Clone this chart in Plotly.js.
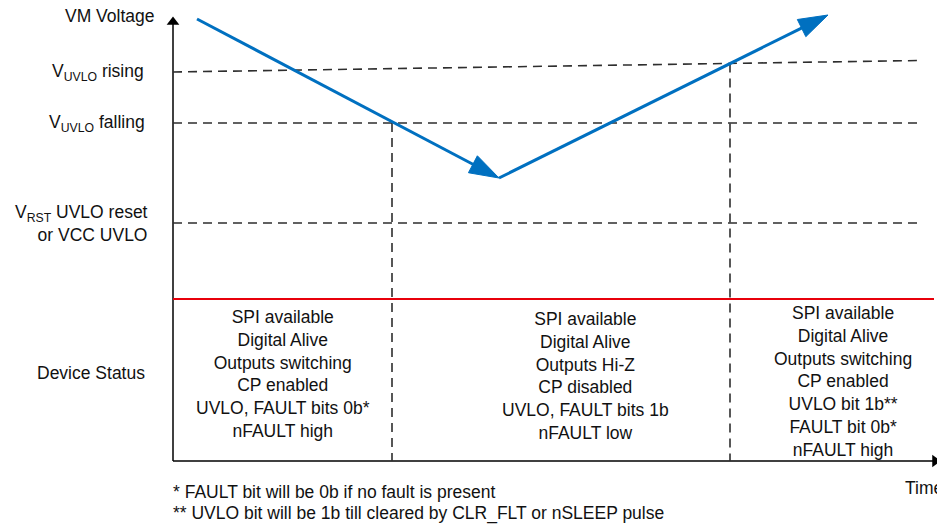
<!DOCTYPE html>
<html>
<head>
<meta charset="utf-8">
<script src="https://cdn.plot.ly/plotly-3.0.1.min.js"></script>
<style>html,body{margin:0;padding:0;background:#fff;}#chart{width:937px;height:527px;}</style>
</head>
<body>
<div id="chart"></div>
<script>
// ---- Data (time / voltage units; origin at the axes corner) ----
const vmTime = [24, 326, 655];
const vmVoltage = [442, 283, 446];

const uvloRisingTime = [0, 747];
const uvloRisingVolt = [389, 400.5];
const uvloFallingTime = [0, 747];
const uvloFallingVolt = [338, 338];
const vrstTime = [0, 747];
const vrstVolt = [238, 238];
const statusLineTime = [0, 761];
const statusLineLevel = [162, 162];

const crossFallTime = 219;
const crossRiseTime = 557;

const axisTimeMax = 762;
const axisVoltMax = 438;

const levelLabels = ["VM Voltage", "V<sub>UVLO</sub> rising", "V<sub>UVLO</sub> falling", "V<sub>RST</sub> UVLO reset<br>or VCC UVLO", "Device Status"];
const statusTexts = [
  "SPI available<br>Digital Alive<br>Outputs switching<br>CP enabled<br>UVLO, FAULT bits 0b*<br>nFAULT high",
  "SPI available<br>Digital Alive<br>Outputs Hi-Z<br>CP disabled<br>UVLO, FAULT bits 1b<br>nFAULT low",
  "SPI available<br>Digital Alive<br>Outputs switching<br>CP enabled<br>UVLO bit 1b**<br>FAULT bit 0b*<br>nFAULT high"
];
const statusCenters = [110, 412, 670];
const statusLevels = [87, 85, 80];
const footnotes = ["* FAULT bit will be 0b if no fault is present", "** UVLO bit will be 1b till cleared by CLR_FLT or nSLEEP pulse"];
const timeLabel = "Time";

// ---- Styles ----
const FONT = "Liberation Sans, Arial, sans-serif";
const dashStyle = {color: "#2e2e2e", width: 1.6, dash: "9px,6px"};

function interp(xs, ys, x) {
  return ys[0] + (ys[1] - ys[0]) * (x - xs[0]) / (xs[1] - xs[0]);
}

const traces = [];
// axes
traces.push({x: [0, 0], y: [0, axisVoltMax], mode: "lines", line: {color: "#000", width: 1.5}, hoverinfo: "skip", cliponaxis: false});
traces.push({x: [0, axisTimeMax], y: [0, 0], mode: "lines", line: {color: "#000", width: 1.5}, hoverinfo: "skip", cliponaxis: false});
traces.push({x: [0], y: [axisVoltMax + 1], mode: "markers", marker: {symbol: "triangle-up", size: 11, color: "#000"}, cliponaxis: false, hoverinfo: "skip"});
traces.push({x: [axisTimeMax], y: [0], mode: "markers", marker: {symbol: "triangle-right", size: 11, color: "#000"}, cliponaxis: false, hoverinfo: "skip"});

// threshold dashed lines
traces.push({x: uvloRisingTime, y: uvloRisingVolt, mode: "lines", line: dashStyle, hoverinfo: "skip"});
traces.push({x: uvloFallingTime, y: uvloFallingVolt, mode: "lines", line: dashStyle, hoverinfo: "skip"});
traces.push({x: vrstTime, y: vrstVolt, mode: "lines", line: dashStyle, hoverinfo: "skip"});

// vertical dashed lines
traces.push({x: [crossFallTime, crossFallTime], y: [interp(uvloFallingTime, uvloFallingVolt, crossFallTime), 0], mode: "lines", line: dashStyle, hoverinfo: "skip"});
traces.push({x: [crossRiseTime, crossRiseTime], y: [interp(uvloRisingTime, uvloRisingVolt, crossRiseTime), 0], mode: "lines", line: dashStyle, hoverinfo: "skip"});

// red status line
traces.push({x: statusLineTime, y: statusLineLevel, mode: "lines", line: {color: "#e8000b", width: 2.2}, hoverinfo: "skip", cliponaxis: false});

// VM voltage
traces.push({
  x: vmTime, y: vmVoltage, mode: "lines+markers",
  line: {color: "#0070c0", width: 3},
  marker: {symbol: ["circle", "arrow", "arrow"], size: [0, 31, 31], angleref: "previous", color: "#0070c0", opacity: 1, line: {width: 1, color: "#0070c0"}},
  cliponaxis: false, hoverinfo: "skip"
});

const annFont = {family: FONT, size: 17.5, color: "#111"};
const annotations = [];
const labelY = [445, uvloRisingVolt[0], uvloFallingVolt[0], vrstVolt[0], 88];
const labelX = [-16, -27, -26, -23, -26];
levelLabels.forEach((t, i) => {
  annotations.push({x: labelX[i], y: labelY[i], xref: "x", yref: "y", text: t, showarrow: false, xanchor: "right", yanchor: "middle", align: "right", font: annFont});
});
statusTexts.forEach((t, i) => {
  annotations.push({x: statusCenters[i], y: statusLevels[i], xref: "x", yref: "y", text: t, showarrow: false, xanchor: "center", yanchor: "middle", align: "center", font: annFont});
});
footnotes.forEach((t, i) => {
  annotations.push({x: -2, y: -31 - 21 * i, xref: "x", yref: "y", text: t, showarrow: false, xanchor: "left", yanchor: "middle", align: "left", font: annFont});
});
annotations.push({x: 730, y: -27, xref: "x", yref: "y", text: timeLabel, showarrow: false, xanchor: "left", yanchor: "middle", font: annFont});

const layout = {
  width: 937, height: 527,
  margin: {l: 0, r: 0, t: 0, b: 0, pad: 0},
  paper_bgcolor: "#fff", plot_bgcolor: "#fff",
  showlegend: false,
  xaxis: {range: [-173, 764], visible: false, fixedrange: true},
  yaxis: {range: [-66, 461], visible: false, fixedrange: true},
  annotations: annotations,
  font: {family: FONT}
};

Plotly.newPlot("chart", traces, layout, {staticPlot: true, displayModeBar: false});
</script>
</body>
</html>
